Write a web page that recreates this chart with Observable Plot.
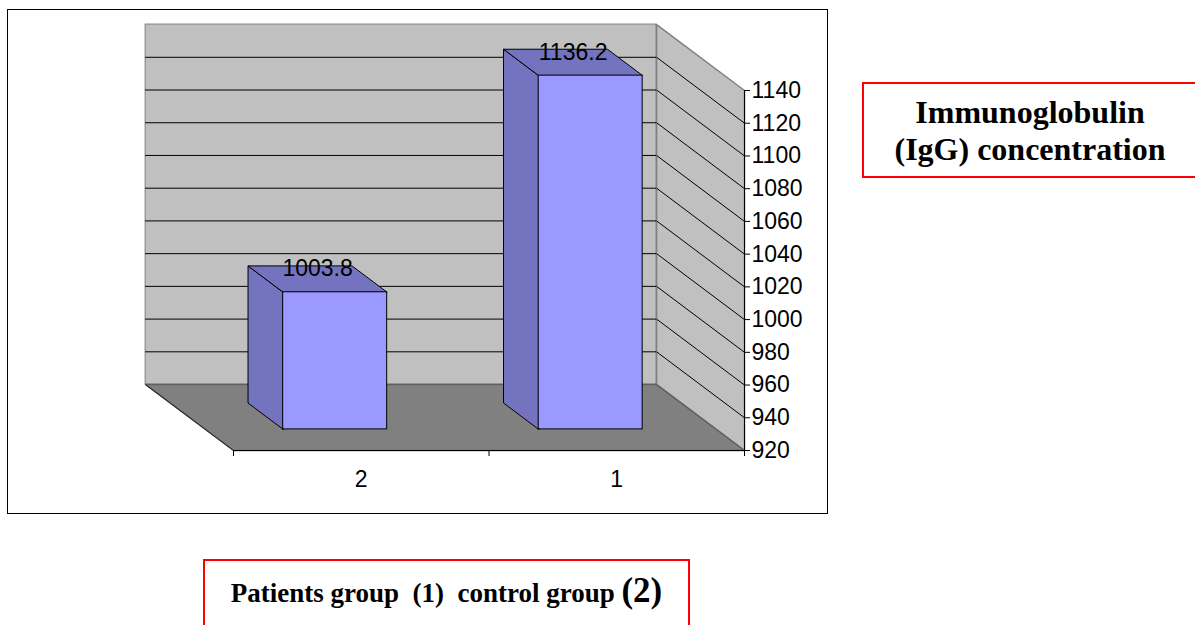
<!DOCTYPE html>
<html>
<head>
<meta charset="utf-8">
<script src="https://cdn.jsdelivr.net/npm/d3@7"></script>
<script src="https://cdn.jsdelivr.net/npm/@observablehq/plot@0.6"></script>
<style>
  body { margin: 0; background: #fff; }
  #wrap { position: relative; width: 1195px; height: 625px; overflow: hidden; background: #fff; }
  #border { position: absolute; left: 7px; top: 9px; width: 819px; height: 503px; border: 1px solid #000; }
  #chart { position: absolute; left: 0; top: 0; }
  .box { position: absolute; box-sizing: border-box; border: 2px solid #ff0000; background: #fff;
         font-family: "Liberation Serif", "Times New Roman", serif; font-weight: bold; color: #000; text-align: center; }
  #titlebox { left: 862px; top: 82px; width: 336px; height: 96px; font-size: 32px; line-height: 37px;
              display: flex; align-items: center; justify-content: center; padding-top: 2px; }
  #capbox { left: 203px; top: 559px; width: 487px; height: 90px; font-size: 27px; line-height: 40px;
            padding-top: 10px; white-space: pre; }
  #capbox span { font-size: 35px; }
</style>
</head>
<body>
<div id="wrap">
  <div id="border"></div>
  <div id="chart"></div>
  <div id="titlebox" class="box"><div>Immunoglobulin<br>(IgG) concentration</div></div>
  <div id="capbox" class="box">Patients group  (1)  control group <span>(2)</span></div>
</div>
<script>
// ---- data ----
const categories = ["2", "1"];
const values = [1003.8, 1136.2];
const yTicks = [920, 940, 960, 980, 1000, 1020, 1040, 1060, 1080, 1100, 1120, 1140];

// ---- 3D geometry (in data units) ----
const DX = -0.344;   // x shift of the back plane
const DY = 40.3;     // value shift of the back plane
const d0 = 0.32, d1 = 0.72;   // bar depth (front / back)
const hw = 0.2035, shift = 0.008;
const y0 = yTicks[0], yTop = yTicks[yTicks.length - 1];
const proj = (x, v, d) => ({x: x + d * DX, y: v + d * DY});
const gridTicks = yTicks.slice(1, -1);

function poly(pts, opts) {
  return Plot.line([...pts, pts[0]], {x: "x", y: "y", ...opts});
}

const bars = categories.map((c, i) => {
  const cx = i + 0.5 + shift;
  return {c, v: values[i], cx, xl: cx - hw, xr: cx + hw};
});
const sidePts = bars.flatMap((b, k) =>
  [proj(b.xl, y0, d0), proj(b.xl, y0, d1), proj(b.xl, b.v, d1), proj(b.xl, b.v, d0), proj(b.xl, y0, d0)]
    .map(p => ({...p, id: k})));
const topPts = bars.flatMap((b, k) =>
  [proj(b.xl, b.v, d0), proj(b.xl, b.v, d1), proj(b.xr, b.v, d1), proj(b.xr, b.v, d0), proj(b.xl, b.v, d0)]
    .map(p => ({...p, id: k})));

const chart = Plot.plot({
  width: 1195,
  height: 625,
  marginLeft: 233,
  marginRight: 451,
  marginTop: 90,
  marginBottom: 175,
  style: {background: "transparent", overflow: "visible", fontFamily: "'Liberation Sans', Arial, sans-serif", fontSize: "23px", color: "#000"},
  x: {type: "linear", domain: [0, 2]},
  y: {type: "linear", domain: [y0, yTop]},
  marks: [
    // back wall
    Plot.rect([0], {x1: () => DX, x2: () => 2 + DX, y1: () => y0 + DY, y2: () => yTop + DY, fill: "#c0c0c0", stroke: "#808080"}),
    // right side wall
    poly([proj(2, y0, 1), proj(2, yTop, 1), proj(2, yTop, 0), proj(2, y0, 0)], {fill: "#c0c0c0", stroke: "#808080"}),
    // floor
    poly([proj(0, y0, 1), proj(2, y0, 1), proj(2, y0, 0), proj(0, y0, 0)], {fill: "#808080", stroke: "#606060"}),
    Plot.link([0], {x1: () => DX, y1: () => y0 + DY, x2: () => 0, y2: () => y0, stroke: "#222"}),
    // gridlines on back wall and side wall
    Plot.ruleY(gridTicks, {y: d => d + DY, x1: DX, x2: 2 + DX, stroke: "#000"}),
    Plot.link(gridTicks, {x1: () => 2 + DX, y1: d => d + DY, x2: () => 2, y2: d => d, stroke: "#000"}),
    // axis lines
    Plot.ruleX([2], {y1: y0, y2: yTop, stroke: "#000"}),
    Plot.ruleY([y0], {x1: 0, x2: 2, stroke: "#000"}),
    Plot.axisY(yTicks, {anchor: "right", tickSize: 5, tickPadding: 2, fontSize: 23, label: null, tickFormat: d => String(d), stroke: "#000", fill: "#000"}),
    Plot.axisX([0, 1, 2], {anchor: "bottom", tickSize: 6, tickFormat: () => "", label: null, stroke: "#000"}),
    Plot.axisX(categories.map((c, i) => i + 0.5), {anchor: "bottom", tickSize: 0, tickPadding: 20, fontSize: 23, label: null,
      tickFormat: d => categories[Math.floor(d)], fill: "#000"}),
    // bars
    Plot.line(sidePts, {x: "x", y: "y", z: "id", fill: "#7373bf", stroke: "#000", strokeWidth: 1}),
    Plot.line(topPts, {x: "x", y: "y", z: "id", fill: "#7373bf", stroke: "#000", strokeWidth: 1}),
    Plot.rect(bars, {x1: b => b.xl + d0 * DX, x2: b => b.xr + d0 * DX, y1: y0 + d0 * DY, y2: b => b.v + d0 * DY,
      fill: "#9999ff", stroke: "#000"}),
    // value labels
    Plot.text(bars, {x: b => b.cx + 0.52 * DX, y: b => b.v + 0.52 * DY, text: b => b.v.toFixed(1), dy: -10, fontSize: 23, fill: "#000"})
  ]
});
document.getElementById("chart").appendChild(chart);
</script>
</body>
</html>
